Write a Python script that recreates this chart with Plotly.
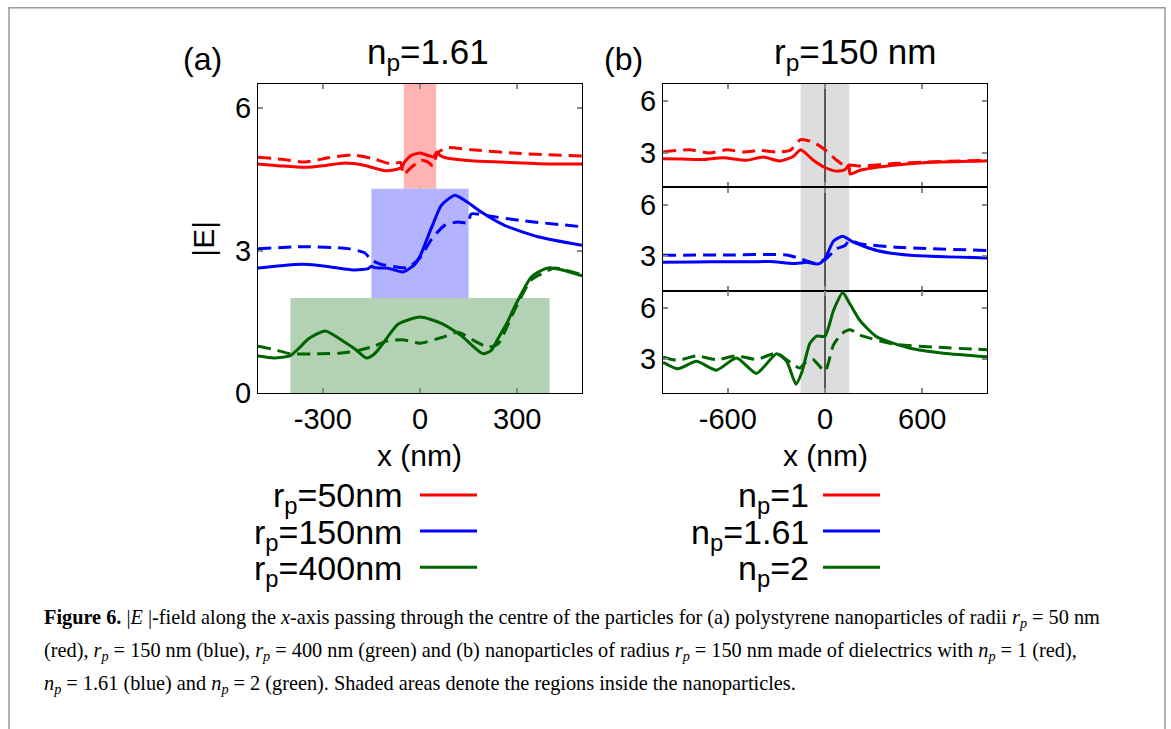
import plotly.graph_objects as go

W, H = 1171, 729

# ---------------- data: panel (a)  n_p = 1.61 ----------------
a_r50_sol_x = [-500, -430, -356, -290, -233, -170, -110, -78, -55, -48, -27, 0, 25, 42, 52, 62, 86, 158, 250, 313, 400, 500]
a_r50_sol_y = [4.82, 4.78, 4.75, 4.79, 4.84, 4.79, 4.68, 4.70, 4.76, 4.86, 5.00, 5.05, 5.00, 4.97, 5.07, 5.00, 4.94, 4.89, 4.86, 4.84, 4.82, 4.82]
a_r50_das_x = [-500, -427, -355, -283, -212, -150, -88, -60, -51, -27, 4, 25, 40, 53, 81, 158, 312, 500]
a_r50_das_y = [4.96, 4.92, 4.86, 4.95, 5.01, 4.94, 4.82, 4.85, 4.60, 4.75, 4.90, 4.86, 4.78, 5.04, 5.16, 5.12, 5.04, 4.99]

a_r150_sol_x = [-500, -430, -356, -280, -201, -160, -150, -140, -100, -52, -16, 0, 35, 66, 107, 148, 189, 261, 364, 500]
a_r150_sol_y = [2.63, 2.68, 2.71, 2.66, 2.59, 2.62, 2.67, 2.64, 2.63, 2.55, 2.71, 2.88, 3.47, 3.95, 4.16, 4.01, 3.81, 3.53, 3.29, 3.11]
a_r150_das_x = [-500, -356, -222, -170, -150, -119, -78, -37, 0, 35, 76, 117, 148, 158, 209, 312, 500]
a_r150_das_y = [3.04, 3.08, 3.04, 2.95, 2.80, 2.71, 2.66, 2.64, 2.85, 3.23, 3.53, 3.60, 3.58, 3.77, 3.73, 3.63, 3.50]

a_r400_sol_x = [-500, -451, -400, -370, -345, -292, -232, -201, -165, -140, -119, -68, 0, 66, 127, 194, 220, 240, 271, 292, 343, 374, 400, 446, 500]
a_r400_sol_y = [0.78, 0.74, 0.79, 0.97, 1.14, 1.31, 1.07, 0.93, 0.74, 0.83, 1.00, 1.45, 1.60, 1.47, 1.21, 0.83, 0.90, 1.14, 1.51, 1.82, 2.44, 2.58, 2.64, 2.58, 2.47]
a_r400_das_x = [-500, -451, -400, -304, -250, -201, -150, -99, -50, 0, 66, 117, 168, 209, 240, 292, 343, 384, 415, 500]
a_r400_das_y = [0.99, 0.92, 0.83, 0.83, 0.84, 0.88, 0.97, 1.10, 1.12, 1.05, 1.17, 1.28, 1.10, 0.97, 1.03, 1.75, 2.38, 2.54, 2.63, 2.49]

# ---------------- data: panel (b)  r_p = 150 nm ----------------
b_n1_sol_x = [-1000, -876, -753, -629, -485, -381, -278, -196, -150, -72, 0, 72, 124, 147, 155, 216, 423, 629, 980, 1000]
b_n1_sol_y = [2.67, 2.66, 2.62, 2.73, 2.58, 2.77, 2.54, 2.80, 3.19, 2.58, 2.16, 1.95, 2.04, 2.30, 1.78, 2.00, 2.29, 2.45, 2.54, 2.55]
b_n1_das_x = [-1000, -836, -712, -608, -505, -402, -299, -216, -150, -72, 0, 72, 134, 150, 216, 423, 629, 1000]
b_n1_das_y = [3.06, 3.19, 3.00, 3.19, 3.06, 3.15, 3.06, 3.15, 3.78, 3.63, 3.19, 2.58, 2.20, 2.30, 2.24, 2.39, 2.48, 2.58]

b_n161_sol_x = [-1000, -800, -608, -450, -340, -196, -150, -113, -41, 0, 52, 109, 175, 320, 526, 1000]
b_n161_sol_y = [2.66, 2.67, 2.69, 2.68, 2.70, 2.58, 2.62, 2.66, 2.56, 2.87, 3.88, 4.17, 3.82, 3.34, 3.06, 2.91]
b_n161_das_x = [-1000, -608, -237, -155, -72, 0, 72, 124, 150, 216, 423, 1000]
b_n161_das_y = [3.06, 3.08, 3.08, 2.87, 2.62, 2.81, 3.44, 3.63, 3.92, 3.73, 3.54, 3.34]

b_n2_sol_x = [-1000, -907, -794, -670, -546, -423, -299, -237, -179, -144, -93, -52, 0, 52, 109, 155, 216, 320, 526, 732, 1000]
b_n2_sol_y = [2.81, 2.43, 2.87, 2.35, 3.06, 2.16, 3.31, 2.87, 1.53, 2.20, 3.92, 4.34, 4.34, 5.83, 6.88, 6.21, 5.26, 4.30, 3.63, 3.34, 3.13]
b_n2_das_x = [-1000, -907, -794, -670, -546, -423, -299, -196, -155, -110, -72, 0, 52, 103, 155, 216, 423, 732, 1000]
b_n2_das_y = [3.11, 2.92, 3.19, 2.96, 3.19, 2.98, 3.34, 2.67, 2.48, 2.90, 2.96, 2.29, 3.82, 4.49, 4.72, 4.40, 3.88, 3.67, 3.55]

# tick labels
a_xticks = [-300, 0, 300]
a_xtext = ["-300", "0", "300"]
a_yticks = [0, 3, 6]
b_xticks = [-600, 0, 600]
b_xtext = ["-600", "0", "600"]
b_yticks = [3, 6]

RED, BLUE, GREEN = "#ff0000", "#0000ff", "#006400"
FONT = "Liberation Sans, Arial, sans-serif"
SERIF = "Liberation Serif, Times New Roman, serif"
DASH = "13px,7px"


def px(x):
    return x / W


def py(y):
    return 1 - y / H


fig = go.Figure()


def add(x, y, color, dash, xa, ya):
    fig.add_trace(go.Scatter(x=x, y=y, mode="lines", xaxis=xa, yaxis=ya, showlegend=False,
                             line=dict(color=color, width=3, dash=dash, shape="spline", smoothing=0.6),
                             hoverinfo="skip"))


add(a_r50_sol_x, a_r50_sol_y, RED, "solid", "x", "y")
add(a_r50_das_x, a_r50_das_y, RED, DASH, "x", "y")
add(a_r150_sol_x, a_r150_sol_y, BLUE, "solid", "x", "y")
add(a_r150_das_x, a_r150_das_y, BLUE, DASH, "x", "y")
add(a_r400_sol_x, a_r400_sol_y, GREEN, "solid", "x", "y")
add(a_r400_das_x, a_r400_das_y, GREEN, DASH, "x", "y")

add(b_n1_sol_x, b_n1_sol_y, RED, "solid", "x2", "y2")
add(b_n1_das_x, b_n1_das_y, RED, DASH, "x2", "y2")
add(b_n161_sol_x, b_n161_sol_y, BLUE, "solid", "x3", "y3")
add(b_n161_das_x, b_n161_das_y, BLUE, DASH, "x3", "y3")
add(b_n2_sol_x, b_n2_sol_y, GREEN, "solid", "x4", "y4")
add(b_n2_das_x, b_n2_das_y, GREEN, DASH, "x4", "y4")

# domains (pixel-based)
ax_a = [px(258), px(582)]
ax_b = [px(663), px(987)]
y_top, y_bot = py(86), py(402)
s1, s2 = py(191.7), py(297.3)

axis_common = dict(showline=True, linecolor="black", linewidth=1.2, mirror="ticks",
                   ticks="inside", ticklen=5, tickwidth=1.5, tickcolor="#8a8a8a",
                   showgrid=False, zeroline=False,
                   tickfont=dict(family=FONT, size=29, color="black"))

fig.update_layout(
    width=W, height=H, margin=dict(l=0, r=0, t=0, b=0),
    paper_bgcolor="white", plot_bgcolor="white",
    xaxis=dict(domain=ax_a, range=[-500, 500], tickvals=a_xticks, ticktext=a_xtext, anchor="y", **axis_common),
    yaxis=dict(domain=[y_bot, y_top], range=[0, 6.5], tickvals=a_yticks, anchor="x", **axis_common),
    xaxis2=dict(domain=ax_b, range=[-1000, 1000], tickvals=b_xticks, anchor="y2",
                showticklabels=False, matches="x4", **axis_common),
    yaxis2=dict(domain=[s1, y_top], range=[1, 7], tickvals=b_yticks, anchor="x2", **axis_common),
    xaxis3=dict(domain=ax_b, range=[-1000, 1000], tickvals=b_xticks, anchor="y3",
                showticklabels=False, matches="x4", **axis_common),
    yaxis3=dict(domain=[s2, s1], range=[1, 7], tickvals=b_yticks, anchor="x3", **axis_common),
    xaxis4=dict(domain=ax_b, range=[-1000, 1000], tickvals=b_xticks, ticktext=b_xtext, anchor="y4", **axis_common),
    yaxis4=dict(domain=[y_bot, s2], range=[1, 7], tickvals=b_yticks, anchor="x4", **axis_common),
)

shapes = []
# panel (a) shaded particle regions
shapes.append(dict(type="rect", xref="x", yref="y", x0=-50, x1=50, y0=4.3, y1=6.5,
                   fillcolor="rgb(255,179,179)", line_width=0, layer="below"))
shapes.append(dict(type="rect", xref="x", yref="y", x0=-150, x1=150, y0=2.0, y1=4.3,
                   fillcolor="rgb(179,179,255)", line_width=0, layer="below"))
shapes.append(dict(type="rect", xref="x", yref="y", x0=-400, x1=400, y0=0, y1=2.0,
                   fillcolor="rgb(179,209,179)", line_width=0, layer="below"))
shapes.append(dict(type="line", xref="x", yref="y domain", x0=0, x1=0, y0=0, y1=1,
                   line=dict(color="black", width=1.2), layer="below"))
# panel (b)
for xa, ya in [("x2", "y2"), ("x3", "y3"), ("x4", "y4")]:
    shapes.append(dict(type="rect", xref=xa, yref=ya + " domain", x0=-150, x1=150, y0=0, y1=1,
                       fillcolor="rgb(221,221,221)", line_width=0, layer="below"))
    shapes.append(dict(type="line", xref=xa, yref=ya + " domain", x0=0, x1=0, y0=0, y1=1,
                       line=dict(color="black", width=1.2), layer="below"))

# legend sample lines
leg_y = [506, 543, 580]
for yy, c in zip(leg_y, [RED, BLUE, GREEN]):
    shapes.append(dict(type="line", xref="paper", yref="paper", x0=px(420), x1=px(477), y0=py(yy), y1=py(yy),
                       line=dict(color=c, width=3)))
    shapes.append(dict(type="line", xref="paper", yref="paper", x0=px(823), x1=px(880), y0=py(yy), y1=py(yy),
                       line=dict(color=c, width=3)))

# outer frame (open at the bottom, running off the page)
shapes.append(dict(type="path", xref="paper", yref="paper",
                   path=f"M {px(9)},{py(H + 20)} L {px(9)},{py(8)} L {px(1165)},{py(8)} L {px(1165)},{py(H + 20)}",
                   line=dict(color="#9a9a9a", width=1.5)))
fig.update_layout(shapes=shapes)

ann = []


def text(x, y, s, size, xanchor="center", yanchor="middle", angle=0, family=FONT):
    ann.append(dict(x=px(x), y=py(y), xref="paper", yref="paper", text=s, showarrow=False,
                    xanchor=xanchor, yanchor=yanchor, textangle=angle,
                    font=dict(family=family, size=size, color="black")))


text(202, 60, "(a)", 32)
text(428, 55, "n<sub>p</sub>=1.61", 35)
text(623, 60, "(b)", 32)
text(855, 55, "r<sub>p</sub>=150 nm", 35)
text(419, 466, "x (nm)", 30)
text(825, 466, "x (nm)", 30)
text(204, 244, "|E|", 30, angle=-90)

legend_a = ["r<sub>p</sub>=50nm", "r<sub>p</sub>=150nm", "r<sub>p</sub>=400nm"]
legend_b = ["n<sub>p</sub>=1", "n<sub>p</sub>=1.61", "n<sub>p</sub>=2"]
for yy, la, lb in zip(leg_y, legend_a, legend_b):
    text(404, yy + 3, la, 34, xanchor="right")
    text(811, yy + 3, lb, 34, xanchor="right")

cap = [
    "<b>Figure 6.</b> |<i>E</i> |-field along the <i>x</i>-axis passing through the centre of the particles for (a) polystyrene nanoparticles of radii <i>r<sub>p</sub></i> = 50 nm",
    "(red), <i>r<sub>p</sub></i> = 150 nm (blue), <i>r<sub>p</sub></i> = 400 nm (green) and (b) nanoparticles of radius <i>r<sub>p</sub></i> = 150 nm made of dielectrics with <i>n<sub>p</sub></i> = 1 (red),",
    "<i>n<sub>p</sub></i> = 1.61 (blue) and <i>n<sub>p</sub></i> = 2 (green). Shaded areas denote the regions inside the nanoparticles.",
]
for yy, s in zip([632, 666, 700], cap):
    text(42, yy, s, 20.3, xanchor="left", family=SERIF)

fig.update_layout(annotations=ann)
fig.write_html("out.html")
